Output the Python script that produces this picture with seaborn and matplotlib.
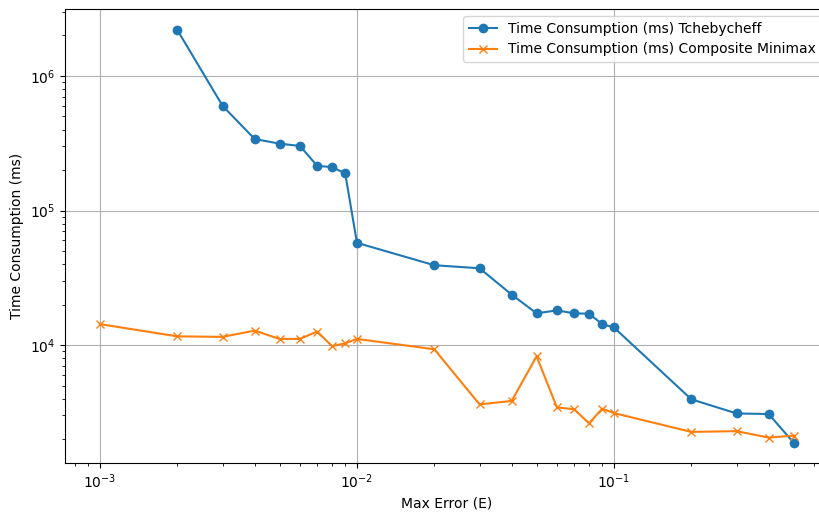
import matplotlib
matplotlib.use("Agg")
import matplotlib.pyplot as plt
import seaborn as sns
import pandas as pd

x_tcheb = [0.002, 0.003, 0.004, 0.005, 0.006, 0.007, 0.008, 0.009, 0.01,
           0.02, 0.03, 0.04, 0.05, 0.06, 0.07, 0.08, 0.09, 0.1,
           0.2, 0.3, 0.4, 0.5]
y_tcheb = [2.2e6, 6.0e5, 3.4e5, 3.14e5, 3.02e5, 2.15e5, 2.1e5, 1.89e5, 5.75e4,
           3.92e4, 3.72e4, 2.37e4, 1.72e4, 1.81e4, 1.72e4, 1.71e4, 1.43e4, 1.35e4,
           3.95e3, 3.1e3, 3.07e3, 1.88e3]

x_comp = [0.001, 0.002, 0.003, 0.004, 0.005, 0.006, 0.007, 0.008, 0.009, 0.01,
          0.02, 0.03, 0.04, 0.05, 0.06, 0.07, 0.08, 0.09, 0.1,
          0.2, 0.3, 0.4, 0.5]
y_comp = [1.43e4, 1.16e4, 1.15e4, 1.28e4, 1.11e4, 1.11e4, 1.26e4, 9.8e3, 1.03e4, 1.11e4,
          9.3e3, 3.62e3, 3.84e3, 8.24e3, 3.44e3, 3.33e3, 2.62e3, 3.36e3, 3.12e3,
          2.26e3, 2.29e3, 2.05e3, 2.12e3]

label_t = "Time Consumption (ms) Tchebycheff"
label_c = "Time Consumption (ms) Composite Minimax"

df_t = pd.DataFrame({"x": x_tcheb, "y": y_tcheb})
df_c = pd.DataFrame({"x": x_comp, "y": y_comp})

fig = plt.figure(figsize=(8.19, 5.14), dpi=100)
ax = fig.add_axes([65/819, 51/514, 763/819, 454/514])

c1, c2 = "#1f77b4", "#ff7f0e"
sns.lineplot(data=df_t, x="x", y="y", ax=ax, color=c1, marker="o",
             markersize=6, markeredgecolor=c1, markeredgewidth=1,
             linewidth=1.5, label=label_t)
sns.lineplot(data=df_c, x="x", y="y", ax=ax, color=c2, marker="x",
             markersize=6, markeredgecolor=c2, markeredgewidth=1,
             linewidth=1.5, label=label_c)

ax.set_xscale("log")
ax.set_yscale("log")
ax.set_xlim(10**-3.136, 10**(-3.136 + 763/257))
ax.set_ylim(10**3.123, 10**6.498)
ax.grid(True, which="major", color="#b0b0b0", linewidth=0.8)
ax.set_xlabel("Max Error (E)", fontsize=10)
ax.set_ylabel("Time Consumption (ms)", fontsize=10)
ax.legend(loc="upper right", fontsize=10)

fig.savefig("out.png", dpi=100)
